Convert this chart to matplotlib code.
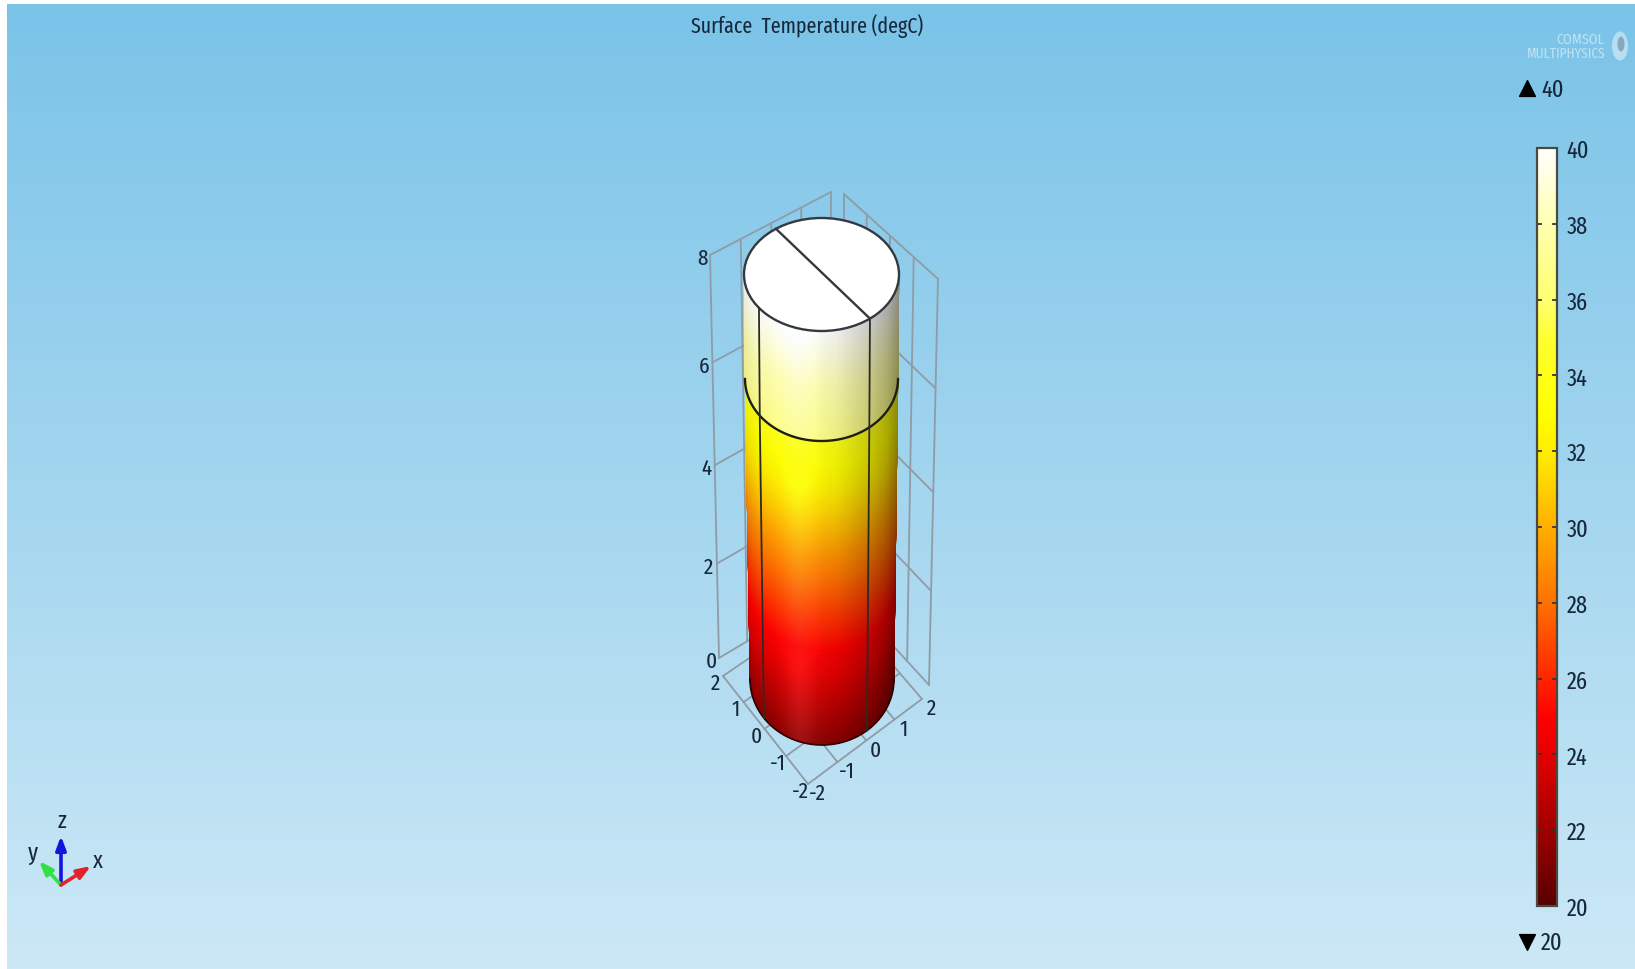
import matplotlib
matplotlib.use("Agg")
import matplotlib.pyplot as plt
import numpy as np
from matplotlib import font_manager as fm
from matplotlib.colors import LinearSegmentedColormap, Normalize
from matplotlib.cm import ScalarMappable
from matplotlib.patches import Ellipse

W, H = 1635, 970

# axis ticks
z_ticks = [0, 2, 4, 6, 8]
y_ticks = [-2, -1, 0, 1, 2]
x_ticks = [-2, -1, 0, 1, 2]

# temperature read along the cylinder, jump at the z=6 interface
profile_z = [0.0, 0.6, 1.7, 2.7, 3.7, 4.6, 5.5, 6.0, 6.0, 7.0, 8.0]
profile_t = [21.3, 22.5, 24.6, 26.8, 29.0, 31.2, 33.0, 34.0, 36.6, 38.0, 40.0]

# colour table of the legend
cbar_t = [20, 22, 24, 25, 28, 30, 32, 33, 35, 36, 38, 40]
cbar_c = ["#560000", "#a00000", "#e60000", "#ff0000", "#ff7000", "#ffb000",
          "#ffee00", "#ffff00", "#ffff30", "#ffff70", "#ffffb0", "#ffffff"]
cbar_ticks = list(range(20, 41, 2))

# lighting across the cylinder, -1 left edge to 1 right edge
shade_u = [-1.0, -0.8, -0.3, 0.2, 0.6, 0.85, 1.0]
shade_v = [0.93, 0.98, 1.0, 0.94, 0.80, 0.68, 0.55]

# cylinder outline per height, in pixels
cyl_z = [0, 6, 8]
cyl_cx = [822, 821.5, 821.5]
cyl_cy = [680, 380, 275.5]
cyl_a = [72, 76.5, 77.5]
cyl_b = [66, 62, 56.5]

INK = "#17273a"
GRID = "#8f9ba5"
installed = {f.name for f in fm.fontManager.ttflist}
FONT = [n for n in ["Fira Sans Extra Condensed", "Roboto Condensed", "DejaVu Sans"] if n in installed]


def homography(corners):
    src, dst = zip(*corners)
    rows, rhs = [], []
    for (u, v), (px, py) in zip(src, dst):
        rows.append([u, v, 1, 0, 0, 0, -u * px, -v * px])
        rows.append([0, 0, 0, u, v, 1, -u * py, -v * py])
        rhs += [px, py]
    h = np.linalg.solve(np.array(rows, float), np.array(rhs, float))
    m = np.append(h, 1).reshape(3, 3)

    def apply(u, v):
        d = m[2, 0] * u + m[2, 1] * v + 1
        return (m[0, 0] * u + m[0, 1] * v + m[0, 2]) / d, (m[1, 0] * u + m[1, 1] * v + m[1, 2]) / d

    return apply


left_wall = homography([((-2, 0), (719, 659)), ((2, 0), (830, 593)),
                        ((-2, 8), (710, 256)), ((2, 8), (831, 193))])
right_wall = homography([((-2, 0), (929, 686)), ((2, 0), (844, 593)),
                         ((-2, 8), (938, 280)), ((2, 8), (844, 195))])
floor = homography([((-2, -2), (808, 785)), ((2, -2), (922, 700)),
                    ((-2, 2), (723, 677)), ((2, 2), (836, 600))])


def seg(ax, f, a, b, **kw):
    x0, y0 = f(*a)
    x1, y1 = f(*b)
    kw.setdefault("color", GRID)
    kw.setdefault("lw", 1.3)
    ax.plot([x0, x1], [y0, y1], solid_capstyle="round", zorder=2, **kw)


def ring(z):
    return (np.interp(z, cyl_z, cyl_cx), np.interp(z, cyl_z, cyl_cy),
            np.interp(z, cyl_z, cyl_a), np.interp(z, cyl_z, cyl_b))


def on_cyl(theta, z):
    cx, cy, a, b = ring(z)
    return cx + a * np.cos(theta), cy + b * np.sin(theta)


def label(ax, x, y, s, size=16.5, ha="center", **kw):
    kw.setdefault("color", INK)
    ax.text(x, y, s, ha=ha, va="center", fontsize=size, family=FONT, **kw)


fig = plt.figure(figsize=(W / 100, H / 100), dpi=100, facecolor="white")
ax = fig.add_axes([0, 0, 1, 1])
ax.axis("off")

# background
bg_top = np.array([122, 195, 232]) / 255
bg_bot = np.array([204, 232, 246]) / 255
grad = np.linspace(0, 1, 256)[:, None, None]
ax.imshow(bg_top + (bg_bot - bg_top) * grad, extent=[7, W, H, 5], aspect="auto", zorder=0)
ax.set_xlim(0, W)
ax.set_ylim(H, 0)

label(ax, 807, 26, "Surface  Temperature (degC)", size=15.6)

# grid walls and floor
for v in x_ticks:
    seg(ax, left_wall, (v, 0), (v, 8))
for v in y_ticks:
    seg(ax, right_wall, (v, 0), (v, 8))
for z in z_ticks:
    seg(ax, left_wall, (-2, z), (2, z))
    seg(ax, right_wall, (-2, z), (2, z))
    px, py = left_wall(-2, z)
    label(ax, px - 8, py + 3, str(z))
for v in x_ticks:
    seg(ax, floor, (v, -2), (v, 2))
    px, py = floor(v, -2)
    label(ax, px + 9, py + 9, str(v))
for v in y_ticks:
    seg(ax, floor, (-2, v), (2, v))
    px, py = floor(-2, v)
    label(ax, px - 8, py + 7, str(v))

# cylinder surface
cmap = LinearSegmentedColormap.from_list(
    "temp", [((t - 20) / 20, c) for t, c in zip(cbar_t, cbar_c)], N=512)
norm = Normalize(20, 40)

th_edges = np.linspace(np.pi, 0, 401)
lower = np.linspace(0, 6, 241)
upper = np.linspace(6, 8, 81)
for zs, z_src, t_src in ((lower, profile_z[:8], profile_t[:8]), (upper, profile_z[8:], profile_t[8:])):
    tt, zz = np.meshgrid(th_edges, zs)
    sx, sy = on_cyl(tt, zz)
    th_mid = (th_edges[:-1] + th_edges[1:]) / 2
    z_mid = (zs[:-1] + zs[1:]) / 2
    tm, zm = np.meshgrid(th_mid, z_mid)
    temp = np.interp(zm, z_src, t_src)
    rgb = cmap(norm(temp))[..., :3]
    u = np.cos(tm)
    light = np.interp(u, shade_u, shade_v)[..., None]
    spec = 0.07 * np.exp(-((u + 0.3) / 0.22) ** 2)[..., None]
    rgb = np.clip(rgb * light + spec, 0, 1)
    mesh = ax.pcolormesh(sx, sy, rgb, shading="flat", zorder=3, antialiased=True,
                         edgecolor="face", linewidth=0.3)
    mesh.set_snap(False)

# top cap
cx, cy, a, b = ring(8)
ax.add_patch(Ellipse((cx, cy), 2 * a, 2 * b, fc="white", ec="#33393f", lw=1.7, zorder=4))

# edges on the surface
px, py = on_cyl(np.linspace(np.pi, 0, 120), 6)
ax.plot(px, py, color="#1c1f14", lw=1.7, zorder=5)
px, py = on_cyl(np.linspace(np.pi, 0, 120), 0)
ax.plot(px, py, color="#300000", lw=1.2, zorder=5)
for deg in (143.8, 51.3):
    zs = np.linspace(0, 8, 50)
    px, py = on_cyl(np.radians(deg), zs)
    ax.plot(px, py, color="#2b2b26", lw=1.3, zorder=5)
p0 = on_cyl(np.radians(51.3), 8)
p1 = on_cyl(np.radians(234), 8)
ax.plot([p0[0], p1[0]], [p0[1], p1[1]], color="#33393f", lw=1.7, zorder=5)

# colour legend
cax = fig.add_axes([1537 / W, 1 - 907 / H, 20 / W, 758 / H])
cb = fig.colorbar(ScalarMappable(norm=norm, cmap=cmap), cax=cax)
cb.set_ticks(cbar_ticks)
cb.ax.tick_params(axis="y", which="major", length=0, labelsize=17.5, labelcolor=INK, pad=7)
for lab in cb.ax.get_yticklabels():
    lab.set_family(FONT)
for t in cbar_ticks:
    cax.plot([0, 0.2], [t, t], color="#333", lw=1.3, transform=cax.get_yaxis_transform(), clip_on=False)
    cax.plot([0.8, 1], [t, t], color="#333", lw=1.3, transform=cax.get_yaxis_transform(), clip_on=False)
cb.outline.set_edgecolor("#4a4a40")
cb.outline.set_linewidth(1.6)

ax.scatter([1527], [89], marker="^", s=130, color="black", zorder=5)
ax.scatter([1527], [943], marker="v", s=130, color="black", zorder=5)
label(ax, 1541, 90, str(cbar_ticks[-1]), size=17.5, ha="left")
label(ax, 1541, 943, str(cbar_ticks[0]), size=17.5, ha="left")

# logo
label(ax, 1604, 40, "COMSOL", size=11, ha="right", color="white", alpha=0.5)
label(ax, 1606, 54, "MULTIPHYSICS", size=10.5, ha="right", color="white", alpha=0.5)
ax.add_patch(Ellipse((1620, 47), 16, 29, fc="white", ec="none", alpha=0.45, zorder=4))
ax.add_patch(Ellipse((1621, 45), 7, 15, fc="#5f7f8f", ec="none", alpha=0.55, zorder=4))

# orientation triad
origin = (61, 886)
for tip, col in (((61, 837), "#1414e0"), ((39, 862), "#35e045"), ((91, 867), "#e0242c")):
    ax.annotate("", xy=tip, xytext=origin, zorder=6,
                arrowprops=dict(arrowstyle="-|>,head_width=0.3,head_length=0.8", color=col, lw=2.6,
                                shrinkA=0, shrinkB=0))
for txt, pos in (("z", (62, 821)), ("y", (33, 853)), ("x", (98, 861))):
    label(ax, pos[0], pos[1], txt, size=17.5)

fig.savefig("out.png", dpi=100)
